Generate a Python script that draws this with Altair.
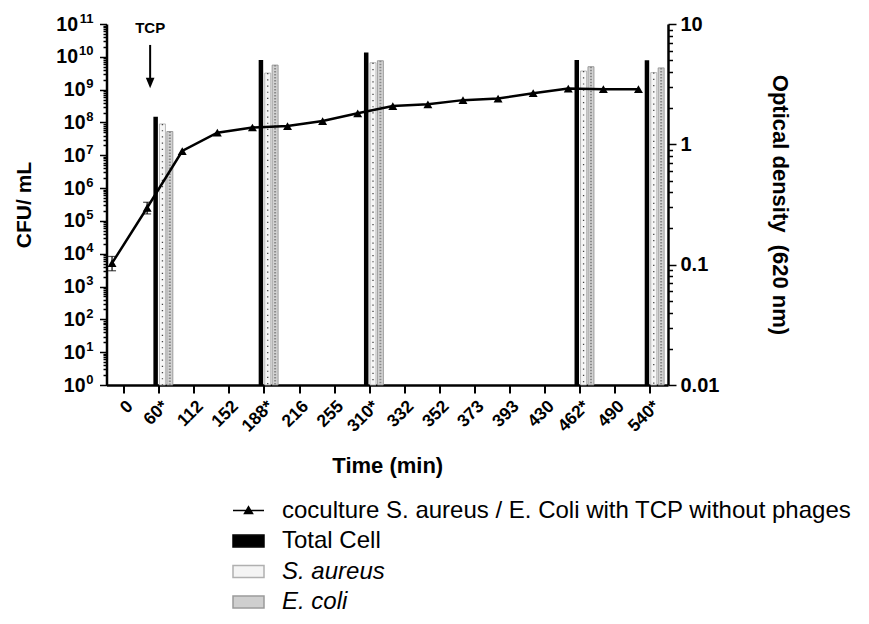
import altair as alt
import pandas as pd

# ---------------- data ----------------
times = ["0", "60*", "112", "152", "188*", "216", "255", "310*", "332", "352",
         "373", "393", "430", "462*", "490", "540*"]
od = [0.103, 0.297, 0.88, 1.25, 1.38, 1.42, 1.56, 1.81, 2.08, 2.15,
      2.33, 2.40, 2.66, 2.91, 2.87, 2.87]
od_err = [0.014, 0.033, 0, 0, 0, 0, 0, 0, 0, 0, 0, 0, 0, 0, 0, 0]

bar_times = ["60*", "188*", "310*", "462*", "540*"]
total_cell = [1.5e8, 8.0e9, 1.35e10, 8.0e9, 7.8e9]
s_aureus = [9.0e7, 3.2e9, 6.6e9, 3.7e9, 3.3e9]
e_coli = [5.3e7, 5.6e9, 7.6e9, 5.0e9, 4.6e9]

series = ["coculture S. aureus / E. Coli with TCP without phages",
          "Total Cell", "S. aureus", "E. coli"]
series_fill = ["black", "black", "#f4f4f4", "#cfcfcf"]
series_stroke = ["black", "black", "#b0b0b0", "#9a9a9a"]
series_shape = ["M-1,0L1,0M-0.26,0.2L0,-0.24L0.26,0.2Z",
                "M-1,-0.38L1,-0.38L1,0.38L-1,0.38Z",
                "M-1,-0.38L1,-0.38L1,0.38L-1,0.38Z",
                "M-1,-0.38L1,-0.38L1,0.38L-1,0.38Z"]

tcp_text = ["TCP"]
tcp_time = ["60*"]
tcp_text_y = [7.6e10]
tcp_arrow_top = [2.3e10]
tcp_arrow_end = [2.0e9]
tcp_head_y = [1.6e9]

cfu_ticks = [m * 10 ** k for k in range(11) for m in range(1, 10)] + [10 ** 11]
cfu_major = [10 ** k for k in range(12)]
od_ticks = [round(m * 10.0 ** k, 4) for k in (-2, -1, 0) for m in range(1, 10)] + [10]

FONT = "Liberation Sans"

# ---------------- tables ----------------
line_df = pd.DataFrame({"time": times, "od": od, "err": od_err})
line_df["lo"] = line_df["od"] - line_df["err"]
line_df["hi"] = line_df["od"] + line_df["err"]
err_df = line_df[line_df["err"] > 0]

bar_df = pd.DataFrame({"time": bar_times, "total": total_cell,
                       "sa": s_aureus, "ec": e_coli})
legend_df = pd.DataFrame({"series": series})
tcp_df = pd.DataFrame({"time": tcp_time, "label": tcp_text, "ty": tcp_text_y,
                       "a1": tcp_arrow_top, "a2": tcp_arrow_end, "hy": tcp_head_y})

# ---------------- scales / axes ----------------
LOG10 = "round(log(datum.value)/LN10)"
is_major = "abs(log(datum.value)/LN10 - " + LOG10 + ") < 0.01"

x_enc = alt.X("time:N", sort=times,
              scale=alt.Scale(domain=times, paddingInner=0, paddingOuter=0),
              axis=alt.Axis(title="Time (min)", labelAngle=315, labelFontSize=17.5,
                            labelFontWeight="bold", labelPadding=4, tickSize=8,
                            tickWidth=2, domainWidth=2.5, titleFontSize=22,
                            titleFontWeight="bold", titlePadding=21,
                            labelOverlap=False, grid=False))

cfu_scale = alt.Scale(type="log", domain=[1, 1e11], nice=False)
# axis with the "10" part of each label, the ticks and the title
cfu_axis = alt.Axis(values=cfu_ticks, orient="left", grid=False,
                    labelExpr=is_major + " ? '10' : ''",
                    tickSize={"condition": {"test": is_major, "value": 7}, "value": 3.5},
                    labelPadding={"condition": {"test": "datum.value > 5e9", "value": 22},
                                  "value": 14.5},
                    tickWidth=1.5, domainWidth=2.5, labelFontSize=19.5,
                    labelFontWeight="bold", labelOverlap=False,
                    labelFlush=False, title="CFU/ mL", titleFontSize=21,
                    titleFontWeight="bold", titlePadding=21)
# axis carrying only the exponents, drawn as superscripts
exp_axis = alt.Axis(values=cfu_major, orient="left", grid=False, domain=False,
                    ticks=False, tickSize=0,
                    labelExpr=LOG10 + " + ''",
                    labelFontSize=13, labelFontWeight="bold", labelPadding=13.5,
                    labelOffset=-6, labelOverlap=False, labelFlush=False,
                    title=None)

od_scale = alt.Scale(type="log", domain=[0.01, 10], nice=False)
od_axis = alt.Axis(values=od_ticks, orient="right", grid=False, format="~g",
                   labelExpr=is_major + " ? datum.label : ''",
                   tickSize={"condition": {"test": is_major, "value": 8}, "value": 4.5},
                   tickWidth=1.5, domainWidth=2.5, labelFontSize=20,
                   labelFontWeight="bold", labelPadding=4, labelOverlap=False,
                   labelFlush=False, title="Optical density \u00a0(620 nm)",
                   titleFontSize=22, titleFontWeight="bold", titlePadding=49)

# ---------------- bars ----------------
base_bar = alt.Chart(bar_df)
y_base = alt.Y2(datum=1)

total_bars = base_bar.mark_bar(width=4.5, xOffset=-3.5, color="black").encode(
    x=x_enc, y=alt.Y("total:Q", scale=cfu_scale, axis=cfu_axis), y2=y_base)
sa_bars = base_bar.mark_bar(width=6, xOffset=3.3, fill="#f6f6f6",
                            stroke="#a8a8a8", strokeWidth=0.8).encode(
    x=x_enc, y=alt.Y("sa:Q", axis=exp_axis), y2=y_base)
sa_dots = base_bar.mark_rule(xOffset=3.3, color="#444", strokeWidth=1.3,
                             strokeDash=[1.2, 5]).encode(
    x=x_enc, y=alt.Y("sa:Q", axis=None), y2=y_base)
ec_bars = base_bar.mark_bar(width=6, xOffset=10.7, fill="#d2d2d2",
                            stroke="#8c8c8c", strokeWidth=0.8).encode(
    x=x_enc, y=alt.Y("ec:Q", axis=None), y2=y_base)
ec_dots = base_bar.mark_rule(xOffset=10.7, color="#8a8a8a", strokeWidth=2,
                             strokeDash=[1.5, 1.5]).encode(
    x=x_enc, y=alt.Y("ec:Q", axis=None), y2=y_base)

# TCP annotation
tcp_base = alt.Chart(tcp_df)
tcp_label = tcp_base.mark_text(xOffset=-9, fontSize=15, fontWeight="bold",
                               font=FONT, baseline="middle", color="black").encode(
    x=x_enc, y=alt.Y("ty:Q", axis=None), text="label:N")
tcp_shaft = tcp_base.mark_rule(xOffset=-9, strokeWidth=2, color="black").encode(
    x=x_enc, y=alt.Y("a1:Q", axis=None), y2="a2:Q")
tcp_head = tcp_base.mark_point(xOffset=-9, shape="M-0.5,-0.6L0.5,-0.6L0,0.6Z",
                               size=300, filled=True, color="black", opacity=1).encode(
    x=x_enc, y=alt.Y("hy:Q", axis=None))

# legend-only layer
legend_layer = alt.Chart(legend_df).mark_point(size=0, filled=True, opacity=1).encode(
    shape=alt.Shape("series:N", scale=alt.Scale(domain=series, range=series_shape),
                    legend=alt.Legend(title=None)),
    fill=alt.Fill("series:N", scale=alt.Scale(domain=series, range=series_fill),
                  legend=alt.Legend(title=None)),
    stroke=alt.Stroke("series:N", scale=alt.Scale(domain=series, range=series_stroke),
                      legend=alt.Legend(title=None)),
)

left_group = alt.layer(total_bars, sa_bars, sa_dots, ec_bars, ec_dots,
                       tcp_shaft, tcp_head, tcp_label, legend_layer
                       ).resolve_axis(y="independent")

# ---------------- OD line ----------------
line_base = alt.Chart(line_df)
od_line = line_base.mark_line(color="black", strokeWidth=2.5, xOffset=-12).encode(
    x=x_enc, y=alt.Y("od:Q", scale=od_scale, axis=od_axis))
od_points = line_base.mark_point(shape="triangle-up", filled=True, color="black",
                                 size=80, opacity=1, xOffset=-12).encode(
    x=x_enc, y=alt.Y("od:Q"))
err_base = alt.Chart(err_df)
od_err_rule = err_base.mark_rule(color="black", strokeWidth=1.2, xOffset=-12).encode(
    x=x_enc, y=alt.Y("lo:Q"), y2="hi:Q")
od_err_cap = err_base.mark_tick(color="black", thickness=1.2, size=8, xOffset=-12).encode(
    x=x_enc, y=alt.Y("hi:Q"))
od_err_cap2 = err_base.mark_tick(color="black", thickness=1.2, size=8, xOffset=-12).encode(
    x=x_enc, y=alt.Y("lo:Q"))

right_group = alt.layer(od_err_rule, od_err_cap, od_err_cap2, od_line, od_points)

chart = alt.layer(left_group, right_group).resolve_scale(y="independent").properties(
    width=561.5, height=361,
    padding={"left": 98.5, "top": 16, "right": 193, "bottom": 230},
    autosize=alt.AutoSizeParams(type="none"),
).configure_view(stroke=None).configure_axis(
    labelFont=FONT, titleFont=FONT, labelColor="black", titleColor="black",
    domainColor="black", tickColor="black",
).configure_legend(
    orient="none", legendX=125.5, legendY=470, labelFont=FONT, labelFontSize=24,
    labelColor="black", labelLimit=800, labelOffset=17, symbolSize=961,
    symbolStrokeWidth=1.5, rowPadding=1.5, padding=0, symbolOpacity=1,
    labelFontStyle={"expr": "indexof(['S. aureus','E. coli'], datum.label) >= 0 ? 'italic' : 'normal'"},
).configure_text(font=FONT)

chart.save("out.html", embed_options={"renderer": "svg", "actions": False})
